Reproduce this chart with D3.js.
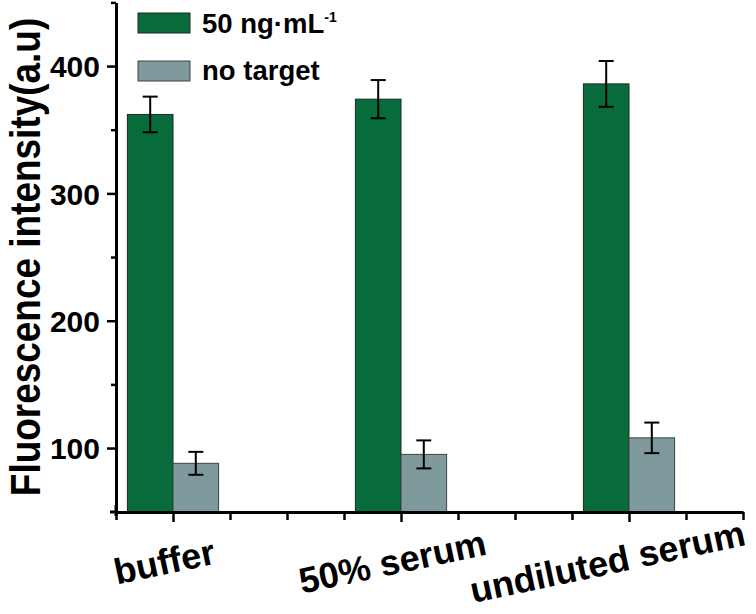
<!DOCTYPE html>
<html>
<head>
<meta charset="utf-8">
<script src="https://cdn.jsdelivr.net/npm/d3@7"></script>
<style>
  body { margin: 0; background: #fff; }
  text { font-family: "Liberation Sans", Arial, sans-serif; font-weight: bold; fill: #000; }
</style>
</head>
<body>
<svg id="chart" width="756" height="614"></svg>
<script>
const categories = ["buffer", "50% serum", "undiluted serum"]
const withTarget = [362, 374, 386]
const withTargetErr = [14, 15, 18]
const noTarget = [88, 95, 108]
const noTargetErr = [9, 11, 12]
const yMajor = [100, 200, 300, 400]
const yMinor = [150, 250, 350, 450]
const seriesNames = ["50 ng·mL", "no target"]

const green = "#076b3b", gray = "#7f9a9c"

const svg = d3.select("#chart")

// category i sits at slot 1 + 4i, axis runs over 11 slots
let x = d3.scaleLinear().domain([0, 11]).range([116, 743])
let y = d3.scaleLinear().domain([50, 450]).range([511.7, 2.4])
const slot = i => 1 + 4 * i
const bw = 0.8

// bars
const bars = svg.append("g")
bars.selectAll(".g-bar")
    .data(withTarget)
    .enter().append("rect")
    .attr("class", "g-bar")
    .attr("x", (d, i) => x(slot(i) - bw))
    .attr("y", d => y(d))
    .attr("width", x(bw) - x(0))
    .attr("height", d => y(50) - y(d))
    .attr("fill", green)
    .attr("stroke", "#1d2b22")
    .attr("stroke-width", 1)

bars.selectAll(".n-bar")
    .data(noTarget)
    .enter().append("rect")
    .attr("class", "n-bar")
    .attr("x", (d, i) => x(slot(i)))
    .attr("y", d => y(d))
    .attr("width", x(bw) - x(0))
    .attr("height", d => y(50) - y(d))
    .attr("fill", gray)
    .attr("stroke", "#3a4446")
    .attr("stroke-width", 1)

// error bars
const errs = []
withTarget.forEach((v, i) => errs.push({ cx: slot(i) - bw / 2, v: v, e: withTargetErr[i] }))
noTarget.forEach((v, i) => errs.push({ cx: slot(i) + bw / 2, v: v, e: noTargetErr[i] }))

const eb = svg.append("g").attr("stroke", "#000").attr("stroke-width", 2)
errs.forEach(d => {
    let cx = x(d.cx)
    eb.append("line").attr("x1", cx).attr("x2", cx).attr("y1", y(d.v + d.e)).attr("y2", y(d.v - d.e))
    eb.append("line").attr("x1", cx - 7.5).attr("x2", cx + 7.5).attr("y1", y(d.v + d.e)).attr("y2", y(d.v + d.e))
    eb.append("line").attr("x1", cx - 7.5).attr("x2", cx + 7.5).attr("y1", y(d.v - d.e)).attr("y2", y(d.v - d.e))
})

// axes
const yAxis = svg.append("g")
    .attr("transform", "translate(116,0)")
    .call(d3.axisLeft(y).tickValues(yMajor).tickSize(9).tickSizeOuter(0).tickPadding(7))
yAxis.selectAll("text").style("font-size", "30px").attr("dy", "0.36em")

svg.append("g")
    .attr("transform", "translate(116,0)")
    .call(d3.axisLeft(y).tickValues(yMinor).tickSize(5).tickFormat(""))
    .select(".domain").remove()

const xAxis = svg.append("g")
    .attr("transform", "translate(0,512)")
    .call(d3.axisBottom(x).tickValues(d3.range(0, 12)).tickSize(8).tickSizeOuter(0).tickFormat(""))
xAxis.selectAll(".tick line").filter(d => (d - 1) % 4 === 0).attr("y2", 10)

svg.selectAll(".domain").attr("stroke-width", 3)
svg.selectAll(".tick line").attr("stroke-width", 2.5)

// overhang at the corner
svg.append("line").attr("x1", 116).attr("x2", 116).attr("y1", 505).attr("y2", 516).attr("stroke", "#000").attr("stroke-width", 3)
svg.append("line").attr("x1", 110).attr("x2", 118).attr("y1", 512).attr("y2", 512).attr("stroke", "#000").attr("stroke-width", 3)

// category labels
svg.append("g").selectAll("text")
    .data(categories)
    .enter().append("text")
    .attr("transform", (d, i) => {
        let cx = Math.min(x(slot(i)) - 6, 610)
        return `translate(${cx},574) rotate(-12)`
    })
    .attr("text-anchor", "middle")
    .style("font-size", "36px")
    .text(d => d)

// y title
svg.append("text")
    .attr("transform", "translate(40,257) rotate(-90) scale(0.88,1)")
    .attr("text-anchor", "middle")
    .style("font-size", "42px")
    .text("Fluorescence intensity(a.u)")

// legend
const legend = svg.append("g")
const legendColors = [green, gray]
const legendStroke = ["#1d2b22", "#3a4446"]
seriesNames.forEach((name, i) => {
    legend.append("rect")
        .attr("x", 138).attr("y", 13 + i * 48)
        .attr("width", 52).attr("height", 20)
        .attr("fill", legendColors[i])
        .attr("stroke", legendStroke[i])
    let t = legend.append("text")
        .attr("x", 202).attr("y", 33 + i * 47)
        .style("font-size", "27.5px")
        .text(name)
    if (i === 0) {
        t.append("tspan")
            .attr("dy", -11)
            .style("font-size", "14px")
            .text("-1")
    }
})
</script>
</body>
</html>
